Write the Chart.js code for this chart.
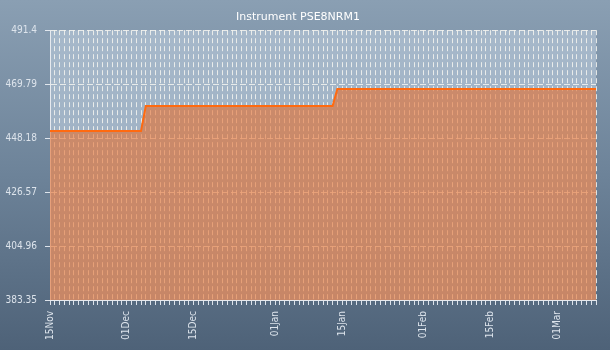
<!DOCTYPE html>
<html>
<head>
<meta charset="utf-8">
<script src="https://cdn.jsdelivr.net/npm/chart.js@4/dist/chart.umd.min.js"></script>
<style>
    html, body { margin: 0; padding: 0; }
    body {
        width: 610px; height: 350px; overflow: hidden;
        background: linear-gradient(to bottom, #8a9fb3 0%, #6d8399 50%, #4e6278 100%);
    }
    #wrap { position: relative; width: 610px; height: 350px; }
</style>
</head>
<body>
<div id="wrap"><canvas id="chart"></canvas></div>
<script>
    'use strict';

    // day 0 is 15 Nov, last day shown is day 114
    var firstDay = 0;
    var lastDay = 114;

    // step changes of the instrument value (day index, value)
    var stepDays = [0, 19, 20, 59, 60, 114];
    var stepValues = [451.0, 451.0, 461.0, 461.0, 467.9, 467.9];

    // date labels on the x axis and the day they sit on
    var dateLabels = ['15Nov', '01Dec', '15Dec', '01Jan', '15Jan', '01Feb', '15Feb', '01Mar'];
    var labelDays = [0, 16, 30, 47, 61, 78, 92, 106];

    // y axis ticks
    var yTicks = [383.35, 404.96, 426.57, 448.18, 469.79, 491.4];

    var points = stepDays.map(function(d, i) {
        return { x: d, y: stepValues[i] };
    });

    var tickFont = { family: "'DejaVu Sans Condensed', 'DejaVu Sans', sans-serif", size: 10 };

    // light plot area behind the grid
    var plotBackground = {
        id: 'plotBackground',
        beforeDraw: function(chart) {
            var a = chart.chartArea, ctx = chart.ctx;
            var g = ctx.createLinearGradient(0, a.top, 0, a.bottom);
            g.addColorStop(0, '#a6b8ca');
            g.addColorStop(1, '#98abbe');
            ctx.save();
            ctx.fillStyle = g;
            ctx.fillRect(a.left, a.top, a.right - a.left, a.bottom - a.top);
            ctx.restore();
        }
    };

    new Chart(document.getElementById('chart').getContext('2d'), {
        type: 'line',
        data: {
            datasets: [{
                data: points,
                borderColor: '#ff6a10',
                borderWidth: 2,
                backgroundColor: 'rgba(230, 110, 45, 0.6)',
                fill: 'start',
                pointRadius: 0,
                tension: 0
            }]
        },
        options: {
            responsive: true,
            maintainAspectRatio: false,
            animation: false,
            layout: { padding: { top: 0, right: 14, bottom: 0, left: 0 } },
            plugins: {
                legend: { display: false },
                tooltip: { enabled: false },
                title: {
                    display: true,
                    text: 'Instrument PSE8NRM1',
                    color: '#ffffff',
                    font: { family: "'DejaVu Sans', sans-serif", size: 11, weight: 'normal' },
                    padding: { top: 11, bottom: 6 }
                }
            },
            scales: {
                x: {
                    type: 'linear',
                    min: firstDay,
                    max: lastDay,
                    afterBuildTicks: function(scale) {
                        var t = [];
                        for (var d = firstDay; d <= lastDay; d++) {
                            t.push({ value: d });
                        }
                        scale.ticks = t;
                    },
                    afterFit: function(scale) {
                        scale.height = 50;
                        scale.paddingLeft = 0;
                        scale.paddingRight = 0;
                    },
                    ticks: {
                        autoSkip: false,
                        minRotation: 90,
                        maxRotation: 90,
                        padding: 6,
                        color: '#dde4ec',
                        font: tickFont,
                        callback: function(value) {
                            var i = labelDays.indexOf(value);
                            return i === -1 ? '' : dateLabels[i];
                        }
                    },
                    grid: {
                        color: 'rgba(245, 245, 240, 0.85)',
                        lineWidth: 1,
                        tickLength: 5,
                        tickColor: 'rgba(235, 240, 245, 0.9)'
                    },
                    border: { color: '#e6e9ee', width: 1, dash: [5, 3] }
                },
                y: {
                    min: yTicks[0],
                    max: yTicks[yTicks.length - 1],
                    afterBuildTicks: function(scale) {
                        scale.ticks = yTicks.map(function(v) { return { value: v }; });
                    },
                    afterFit: function(scale) {
                        scale.width = 50;
                        scale.paddingTop = 0;
                        scale.paddingBottom = 0;
                    },
                    ticks: {
                        padding: 8,
                        color: '#dde4ec',
                        font: tickFont,
                        callback: function(value) {
                            return String(+value.toFixed(2));
                        }
                    },
                    grid: {
                        color: 'rgba(245, 245, 240, 0.85)',
                        lineWidth: 1,
                        tickLength: 5,
                        tickColor: 'rgba(235, 240, 245, 0.9)'
                    },
                    border: { color: '#e6e9ee', width: 1, dash: [6, 3] }
                }
            }
        },
        plugins: [plotBackground]
    });
</script>
</body>
</html>
